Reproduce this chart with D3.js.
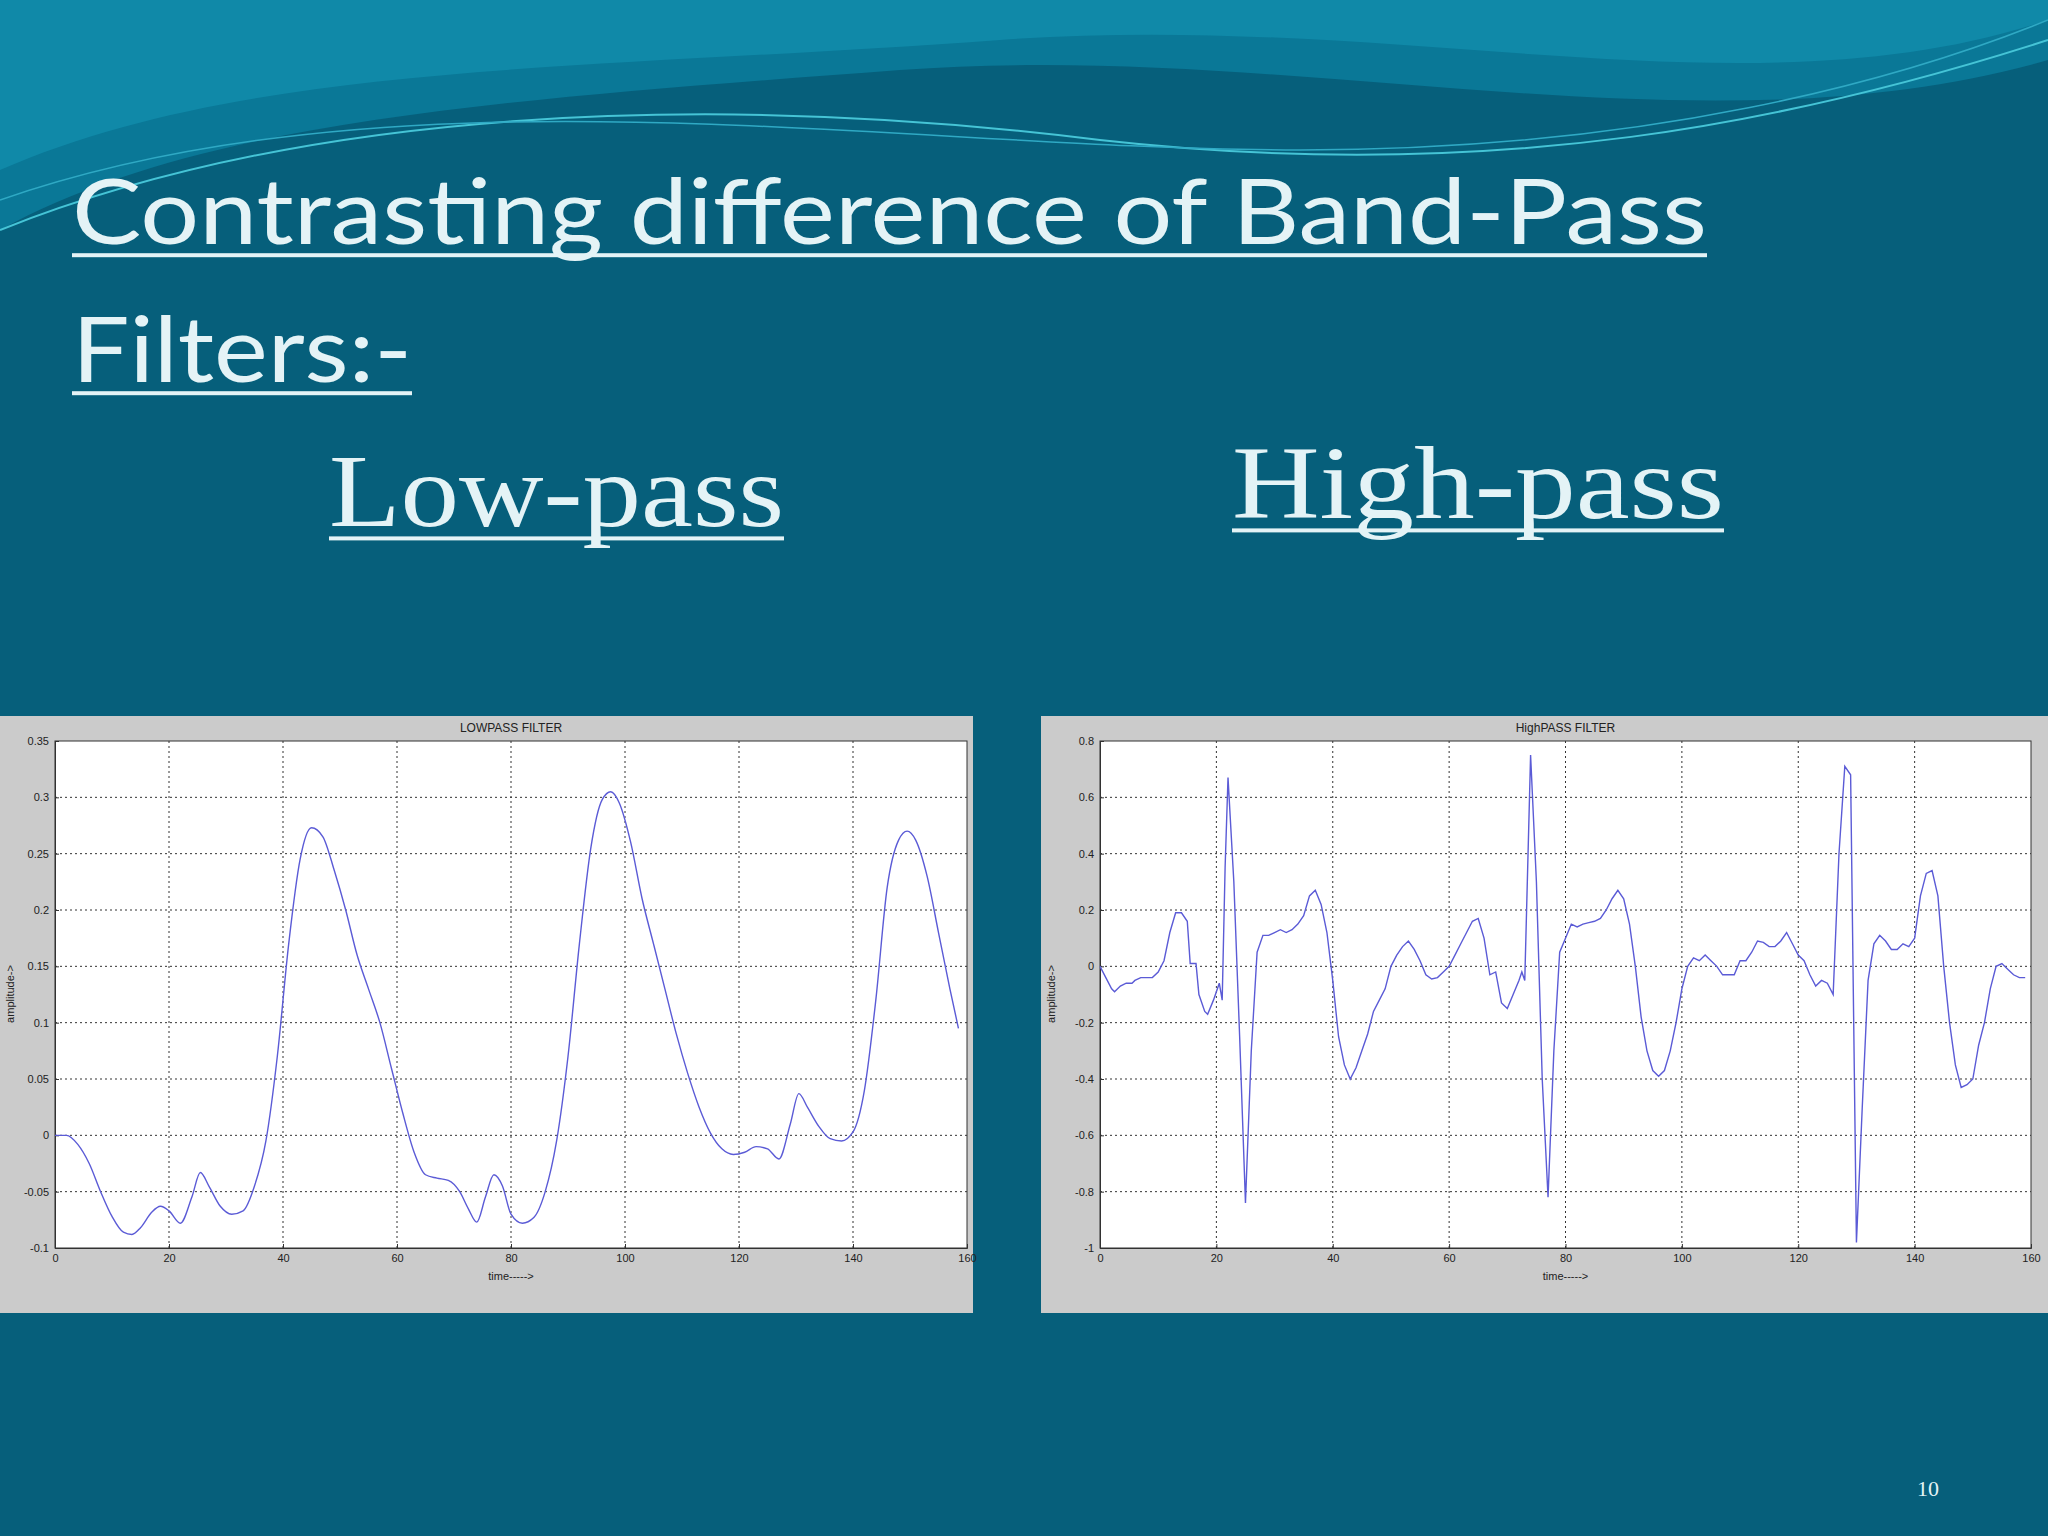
<!DOCTYPE html>
<html>
<head>
<meta charset="utf-8">
<script src="https://cdn.jsdelivr.net/npm/d3@7"></script>
<style>
  body { margin: 0; background: #065f7b; }
  svg { display: block; }
</style>
</head>
<body>
<svg id="slide" width="2048" height="1536"></svg>
<script>
// low-pass trace: [time, amplitude]
var lowTime = [0,2,4,6,8,10,12,13.5,15,17,18.5,20,22,24,25.5,27,29,31,33,35,37,39,41,43,45,47,49,51,53,55,57,59,61,63,65,67,69,71,72.5,74,75.5,77,78.5,80,82,84,86,88,90,92,94,96,97.5,99,101,103,105,107,109,111,113,115,117,119,121,123,125,127,129,130.5,132,134,136,138,140,142,144,146,148,149.5,151,153,155,157,158.5];
var lowAmp = [0,0,-0.008,-0.025,-0.05,-0.072,-0.086,-0.088,-0.082,-0.068,-0.063,-0.067,-0.078,-0.055,-0.033,-0.045,-0.063,-0.07,-0.067,-0.045,-0.005,0.07,0.17,0.245,0.273,0.265,0.235,0.2,0.16,0.13,0.1,0.06,0.02,-0.015,-0.035,-0.038,-0.04,-0.05,-0.065,-0.077,-0.055,-0.035,-0.045,-0.07,-0.078,-0.073,-0.05,-0.005,0.07,0.17,0.255,0.298,0.305,0.295,0.26,0.21,0.17,0.13,0.09,0.055,0.025,0.002,-0.012,-0.017,-0.015,-0.01,-0.012,-0.021,0.01,0.037,0.025,0.008,-0.003,-0.005,0.003,0.04,0.12,0.22,0.262,0.27,0.262,0.23,0.18,0.13,0.095];

// high-pass trace
var highTime = [0,1,2,2.5,3.5,4.5,5.5,6,7,9,10,11,12,13,14,15,15.5,16.5,17,18,18.5,19.5,20.5,21,21.5,22,23,24,25,26,27,28,29,30,31,32,33,34,35,36,37,38,39,40,41,42,43,44,45,46,47,48,49,50,51,52,53,54,55,56,57,58,59,60,61,62,63,64,65,66,67,68,69,70,71,72,72.5,73,74,75,76,77,78,79,80,81,82,83,84,85,86,87,88,89,90,91,92,93,94,95,96,97,98,99,100,101,102,103,104,105,106,107,108,109,110,111,112,113,114,115,116,117,118,119,120,121,122,123,124,125,126,127,128,129,130,131,132,133,134,135,136,137,138,139,140,141,142,143,144,145,146,147,148,149,150,151,152,153,154,155,156,157,158,159];
var highAmp = [0,-0.04,-0.08,-0.09,-0.07,-0.06,-0.06,-0.05,-0.04,-0.04,-0.02,0.02,0.12,0.19,0.19,0.16,0.01,0.01,-0.1,-0.16,-0.17,-0.12,-0.06,-0.12,0.35,0.67,0.3,-0.25,-0.84,-0.3,0.05,0.11,0.11,0.12,0.13,0.12,0.13,0.15,0.18,0.25,0.27,0.22,0.12,-0.05,-0.25,-0.35,-0.4,-0.36,-0.3,-0.24,-0.16,-0.12,-0.08,0,0.04,0.07,0.09,0.06,0.02,-0.03,-0.045,-0.04,-0.02,0,0.04,0.08,0.12,0.16,0.17,0.1,-0.03,-0.02,-0.13,-0.15,-0.1,-0.05,-0.02,-0.05,0.75,0.3,-0.4,-0.82,-0.3,0.05,0.1,0.15,0.14,0.15,0.155,0.16,0.17,0.2,0.24,0.27,0.24,0.15,0,-0.18,-0.3,-0.37,-0.39,-0.37,-0.3,-0.2,-0.08,0,0.03,0.02,0.04,0.02,0,-0.03,-0.03,-0.03,0.02,0.02,0.05,0.09,0.085,0.07,0.07,0.09,0.12,0.08,0.04,0.02,-0.03,-0.07,-0.05,-0.06,-0.1,0.4,0.71,0.68,-0.98,-0.5,-0.05,0.08,0.11,0.09,0.06,0.06,0.08,0.07,0.1,0.25,0.33,0.34,0.25,0,-0.2,-0.35,-0.43,-0.42,-0.4,-0.28,-0.2,-0.08,0,0.01,-0.01,-0.03,-0.04,-0.04];

var xTicks = [0,20,40,60,80,100,120,140,160];
var lowTicks = [-0.1,-0.05,0,0.05,0.1,0.15,0.2,0.25,0.3,0.35];
var highTicks = [-1,-0.8,-0.6,-0.4,-0.2,0,0.2,0.4,0.6,0.8];

var svg = d3.select("#slide");

// header waves
svg.append("rect").attr("width", 2048).attr("height", 1536).attr("fill", "#065f7b");
svg.append("path").attr("d", "M0,0 H2048 V60 C1700,160 1300,40 900,70 C500,100 200,120 0,230 Z").attr("fill", "#0a7897");
svg.append("path").attr("d", "M0,0 H2048 V20 C1750,120 1400,10 1000,40 C600,70 250,60 0,170 Z").attr("fill", "#1089a8");
svg.append("path").attr("d", "M0,230 C300,110 700,90 1100,140 C1500,185 1800,120 2048,40").attr("fill", "none").attr("stroke", "#45c4d6").attr("stroke-width", 2);
svg.append("path").attr("d", "M0,200 C400,60 900,150 1300,150 C1650,150 1900,80 2048,20").attr("fill", "none").attr("stroke", "#2fa9c4").attr("stroke-width", 1.5);

var txt = "#e4f3f6";
function underlined(x, y, str, font, size, width) {
  var t = svg.append("text").attr("x", x).attr("y", y).attr("fill", txt)
    .attr("font-family", font).attr("font-size", size).text(str);
  if (width) t.attr("textLength", width).attr("lengthAdjust", "spacingAndGlyphs");
  var w = t.node().getComputedTextLength();
  svg.append("rect").attr("x", x).attr("y", y + size * 0.1).attr("width", w).attr("height", 4).attr("fill", txt);
}
underlined(72, 244, "Contrasting difference of Band-Pass", "Lato, 'Open Sans', sans-serif", 92, 1635);
underlined(72, 382, "Filters:-", "Lato, 'Open Sans', sans-serif", 92, 340);
underlined(329, 526, "Low-pass", "'Liberation Serif', 'DejaVu Serif', serif", 104, 455);
underlined(1232, 518, "High-pass", "'Liberation Serif', 'DejaVu Serif', serif", 104, 492);
svg.append("text").attr("x", 1917).attr("y", 1496).attr("fill", txt)
  .attr("font-family", "'Liberation Serif', serif").attr("font-size", 22).text("10");

function drawPanel(px, pw, times, amps, yDomain, yTicks, title, plot, curve) {
  var g = svg.append("g");
  g.append("rect").attr("x", px).attr("y", 716).attr("width", pw).attr("height", 597).attr("fill", "#cbcbcb");
  var x = d3.scaleLinear().domain([0, 160]).range([plot[0], plot[1]]);
  var y = d3.scaleLinear().domain(yDomain).range([1248, 741]);
  g.append("rect").attr("x", plot[0]).attr("y", 741).attr("width", plot[1] - plot[0]).attr("height", 507).attr("fill", "#fff");

  // grid
  g.selectAll(".gx").data(xTicks.slice(1, -1)).enter().append("line")
    .attr("x1", d => x(d)).attr("x2", d => x(d)).attr("y1", 741).attr("y2", 1248)
    .attr("stroke", "#333").attr("stroke-width", 1).attr("stroke-dasharray", "2,3");
  g.selectAll(".gy").data(yTicks.slice(1, -1)).enter().append("line")
    .attr("x1", plot[0]).attr("x2", plot[1]).attr("y1", d => y(d)).attr("y2", d => y(d))
    .attr("stroke", "#333").attr("stroke-width", 1).attr("stroke-dasharray", "2,3");

  var fnt = "'Liberation Sans Narrow', 'Liberation Sans', Arial, sans-serif";
  var ax = g.append("g").attr("transform", "translate(0,1248)")
    .call(d3.axisBottom(x).tickValues(xTicks).tickSize(-4).tickPadding(6).tickFormat(d3.format("d")));
  var ay = g.append("g").attr("transform", "translate(" + plot[0] + ",0)")
    .call(d3.axisLeft(y).tickValues(yTicks).tickSize(-4).tickPadding(6).tickFormat(d => String(+d.toFixed(2))));
  [ax, ay].forEach(function (a) {
    a.selectAll("text").attr("font-family", fnt).attr("font-size", 11).attr("fill", "#222");
    a.select(".domain").attr("stroke", "#333");
    a.selectAll("line").attr("stroke", "#333");
  });
  g.append("rect").attr("x", plot[0]).attr("y", 741).attr("width", plot[1] - plot[0]).attr("height", 507)
    .attr("fill", "none").attr("stroke", "#333");

  var pts = times.map((t, i) => [t, amps[i]]);
  g.append("path").datum(pts)
    .attr("d", d3.line().x(d => x(d[0])).y(d => y(d[1])).curve(curve))
    .attr("fill", "none").attr("stroke", "#5b5bd6").attr("stroke-width", 1.4);

  g.append("text").attr("x", (plot[0] + plot[1]) / 2).attr("y", 732).attr("text-anchor", "middle")
    .attr("font-family", fnt).attr("font-size", 12).attr("fill", "#222").text(title);
  g.append("text").attr("x", (plot[0] + plot[1]) / 2).attr("y", 1280).attr("text-anchor", "middle")
    .attr("font-family", fnt).attr("font-size", 11).attr("fill", "#222").text("time----->");
  g.append("text").attr("transform", "translate(" + (px + 14) + ",994) rotate(-90)").attr("text-anchor", "middle")
    .attr("font-family", fnt).attr("font-size", 11).attr("fill", "#222").text("amplitude->");
}

drawPanel(0, 973, lowTime, lowAmp, [-0.1, 0.35], lowTicks, "LOWPASS FILTER", [55, 967], d3.curveMonotoneX);
drawPanel(1041, 1007, highTime, highAmp, [-1, 0.8], highTicks, "HighPASS FILTER", [1100, 2031], d3.curveLinear);
</script>
</body>
</html>
